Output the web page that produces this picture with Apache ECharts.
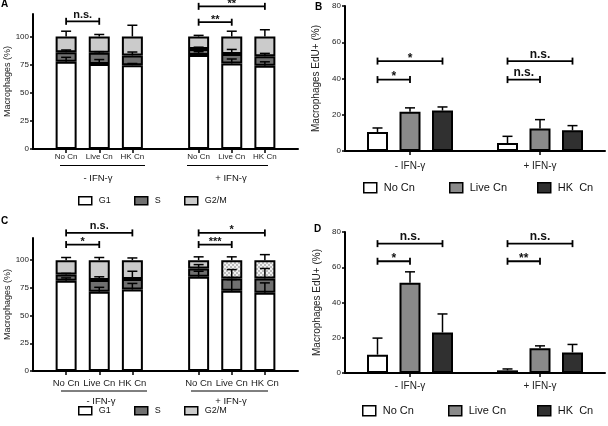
<!DOCTYPE html>
<html><head><meta charset="utf-8">
<script src="https://cdn.jsdelivr.net/npm/echarts@6/dist/echarts.min.js"></script>
<style>html,body{margin:0;padding:0;background:#fff}#c{width:608px;height:426px}</style>
</head><body><div id="c"></div>
<script>
// ---------- categories / ticks ----------
const slotLabels  = ['', 'No Cn', 'Live Cn', 'HK Cn', '', 'No Cn', 'Live Cn', 'HK Cn', ''];
const groupLabels = ['', '', '- IFN-γ', '', '', '', '+ IFN-γ', '', ''];
const barSlots = [1, 2, 3, 5, 6, 7];
const groupSlots = { 'No Cn': [1, 5], 'Live Cn': [2, 6], 'HK  Cn': [3, 7] };
const yTicksStack = [0, 25, 50, 75, 100];
const yTicksEdu = [0, 20, 40, 60, 80];
const phaseNames = ['G1', 'S', 'G2/M'];
const eduNames = ['No Cn', 'Live Cn', 'HK  Cn'];

// ---------- Panel A (stacked %) ----------
const A_G1 = [77.5, 75.5, 74.5, 83.5, 76, 74];
const A_S = [8.5, 10, 8.7, 5.5, 8.5, 8.5];
const A_G2M = [14, 14.5, 16.8, 11, 15.5, 17.5];
const A_G1_err = [4, 4, 1.5, 3, 4, 3.5];
const A_S_err = [2, 1, 3, 1.5, 4, 2.5];
const A_G2M_err = [4.7, 1.8, 10, 1, 4.7, 6];
const A_sigFrom = [1, 5, 5], A_sigTo = [2, 7, 6], A_sigY = [113.5, 126.8, 112.7], A_sigText = ['n.s.', '**', '**'];

// ---------- Panel B (EdU+) ----------
const B_NoCn = [10.5, 4.4], B_NoCn_err = [2.2, 3.7];
const B_Live = [21.6, 12.4], B_Live_err = [2.2, 4.9];
const B_HK = [22.3, 11.4], B_HK_err = [2.0, 2.6];
const B_sigFrom = [1, 1, 5, 5], B_sigTo = [3, 2, 7, 6], B_sigY = [49.6, 39.4, 49.6, 39.4], B_sigText = ['*', '*', 'n.s.', 'n.s.'];

// ---------- Panel C (stacked %) ----------
const C_G1 = [81.5, 71.5, 73.5, 85, 72.5, 70.5];
const C_S = [5.5, 10.5, 9.5, 7.5, 11, 13];
const C_G2M = [13, 18, 17, 7.5, 16.5, 16.5];
const C_G1_err = [2.5, 4, 5.5, 5, 10, 9];
const C_S_err = [1, 3, 7, 3.5, 8, 9];
const C_G2M_err = [2.4, 2.4, 2, 3, 3, 5];
const C_dotted = [false, false, false, false, true, true];
const C_sigFrom = [1, 1, 5, 5], C_sigTo = [3, 2, 7, 6], C_sigY = [124.6, 114.1, 124.6, 114.1], C_sigText = ['n.s.', '*', '*', '***'];

// ---------- Panel D (EdU+) ----------
const D_NoCn = [10.4, 1.5], D_NoCn_err = [9.4, 0.8];
const D_Live = [51.2, 14.1], D_Live_err = [6.2, 1.3];
const D_HK = [23.0, 11.7], D_HK_err = [10.5, 4.5];
const D_sigFrom = [1, 1, 5, 5], D_sigTo = [3, 2, 7, 6], D_sigY = [73.4, 63.4, 73.4, 63.4], D_sigText = ['n.s.', '*', 'n.s.', '**'];

// ---------- styling ----------
const FONT = 'Liberation Sans, Arial, Helvetica, sans-serif';
const COL_G1 = '#ffffff', COL_S = '#707070', COL_G2M = '#cbcbcb';
const COL_NO = '#ffffff', COL_LIVE = '#8a8a8a', COL_HK = '#303030';

const pc = document.createElement('canvas');
pc.width = 4; pc.height = 4;
(function () {
  const g = pc.getContext('2d');
  g.fillStyle = '#f2f2f2'; g.fillRect(0, 0, 4, 4);
  g.fillStyle = '#bdbdbd';
  g.fillRect(0, 0, 2, 2); g.fillRect(2, 2, 2, 2);
})();
const dotted = { image: pc, repeat: 'repeat' };

function slotArray(vals, slots) {
  const arr = slotLabels.map(() => '-');
  slots.forEach((s, i) => { arr[s] = vals[i]; });
  return arr;
}

function errRender(params, api) {
  const x = api.value(0), lo = api.value(1), hi = api.value(2);
  const p1 = api.coord([x, lo]), p2 = api.coord([x, hi]);
  const hw = 5;
  return { type: 'group', children: [
    { type: 'line', shape: { x1: p1[0], y1: p1[1], x2: p2[0], y2: p2[1] }, style: { stroke: '#000', lineWidth: 1.5 } },
    { type: 'line', shape: { x1: p2[0] - hw, y1: p2[1], x2: p2[0] + hw, y2: p2[1] }, style: { stroke: '#000', lineWidth: 1.5 } }
  ] };
}

function sigSeries(idx, from, to, ys, texts, fs) {
  return {
    type: 'custom', xAxisIndex: idx, yAxisIndex: idx, z: 10, silent: true, clip: false,
    data: from.map((f, i) => [f, to[i], ys[i]]),
    encode: { x: [0, 1], y: 2 },
    renderItem: function (params, api) {
      const yv = api.value(2);
      const a = api.coord([api.value(0), yv]), b = api.coord([api.value(1), yv]);
      const y = a[1], c = 3.5;
      const st = { stroke: '#000', lineWidth: 1.8 };
      const txt = texts[params.dataIndex];
      const isStar = txt.indexOf('*') >= 0;
      return { type: 'group', children: [
        { type: 'line', shape: { x1: a[0], y1: y, x2: b[0], y2: y }, style: st },
        { type: 'line', shape: { x1: a[0], y1: y - c, x2: a[0], y2: y + c }, style: st },
        { type: 'line', shape: { x1: b[0], y1: y - c, x2: b[0], y2: y + c }, style: st },
        { type: 'text', x: (a[0] + b[0]) / 2, y: y - (isStar ? 2.5 : 6.5), style: {
          text: txt, fill: '#111', fontSize: fs, fontWeight: 'bold', fontFamily: FONT,
          align: 'center', verticalAlign: 'middle' } }
      ] };
    }
  };
}

function stackPanel(idx, G1, S, G2M, e1, e2, e3, stackName, dottedFlags) {
  const out = [];
  const mk = (name, vals, color, flags) => ({
    name: name, type: 'bar', stack: stackName, xAxisIndex: idx, yAxisIndex: idx, barWidth: 21,
    itemStyle: { color: color, borderColor: '#000', borderWidth: 2 },
    data: slotArray(vals, barSlots).map((v, k) => {
      if (flags && v !== '-') {
        const bi = barSlots.indexOf(k);
        if (flags[bi]) return { value: v, itemStyle: { color: dotted } };
      }
      return v;
    })
  });
  out.push(mk('G1', G1, COL_G1));
  out.push(mk('S', S, COL_S));
  out.push(mk('G2/M', G2M, COL_G2M, dottedFlags));
  const ed = [];
  barSlots.forEach((s, i) => {
    const t1 = G1[i], t2 = G1[i] + S[i], t3 = G1[i] + S[i] + G2M[i];
    ed.push([s, t1, t1 + e1[i]]);
    ed.push([s, t2, t2 + e2[i]]);
    ed.push([s, t3, t3 + e3[i]]);
  });
  out.push({ type: 'custom', xAxisIndex: idx, yAxisIndex: idx, z: 5, silent: true, data: ed,
    encode: { x: 0, y: [1, 2] }, renderItem: errRender });
  return out;
}

function eduPanel(idx, no, live, hk, eNo, eLive, eHk) {
  const out = [];
  const sets = [[eduNames[0], no, eNo, COL_NO], [eduNames[1], live, eLive, COL_LIVE], [eduNames[2], hk, eHk, COL_HK]];
  const ed = [];
  sets.forEach(([name, vals, errs, col]) => {
    const slots = groupSlots[name];
    out.push({ name: name, type: 'bar', xAxisIndex: idx, yAxisIndex: idx, barWidth: 21, barGap: '-100%',
      itemStyle: { color: col, borderColor: '#000', borderWidth: 2 },
      data: slotArray(vals, slots) });
    slots.forEach((s, i) => ed.push([s, vals[i], vals[i] + errs[i]]));
  });
  out.push({ type: 'custom', xAxisIndex: idx, yAxisIndex: idx, z: 5, silent: true, data: ed,
    encode: { x: 0, y: [1, 2] }, renderItem: errRender });
  return out;
}

const axisLineStyle = { lineStyle: { color: '#000', width: 2 } };

function xStack(idx, margin, fs) {
  return { type: 'category', gridIndex: idx, data: slotLabels, boundaryGap: false,
    axisLine: axisLineStyle,
    axisTick: { length: 4, lineStyle: { color: '#000', width: 1.5 }, interval: (i, v) => v !== '' },
    axisLabel: { interval: 0, margin: margin, fontSize: fs, color: '#222', fontFamily: FONT },
    splitLine: { show: false } };
}
function xEdu(idx, margin) {
  return { type: 'category', gridIndex: idx, data: groupLabels, boundaryGap: false,
    axisLine: axisLineStyle,
    axisTick: { length: 4, lineStyle: { color: '#000', width: 1.5 }, interval: (i, v) => v !== '' },
    axisLabel: { interval: 0, margin: margin, fontSize: 10, color: '#222', fontFamily: FONT },
    splitLine: { show: false } };
}
function yAxis(idx, max, interval, ticks, name, gap, nfs) {
  return { type: 'value', gridIndex: idx, min: 0, max: max, interval: interval,
    name: name, nameLocation: 'middle', nameGap: gap, nameRotate: 90,
    nameTextStyle: { fontSize: nfs, color: '#222', fontFamily: FONT },
    axisLine: { show: true, lineStyle: { color: '#000', width: 2 } },
    axisTick: { show: true, length: 3, customValues: ticks, lineStyle: { color: '#000', width: 1.5 } },
    axisLabel: { customValues: ticks, margin: 4, fontSize: 8, color: '#222', fontFamily: FONT },
    splitLine: { show: false } };
}

function legendItem(name, left, top, w, h, fs) {
  return { data: [name], left: left, top: top, padding: 0, itemWidth: w, itemHeight: h, itemGap: 0,
    icon: 'rect', selectedMode: false,
    itemStyle: { borderColor: '#000', borderWidth: 1.5 },
    textStyle: { fontSize: fs, color: '#111', fontFamily: FONT, padding: [0, 0, 0, 2] } };
}

const chart = echarts.init(document.getElementById('c'), null, { renderer: 'canvas' });

const option = {
  animation: false,
  backgroundColor: '#fff',
  title: [
    { text: 'A', left: 1, top: -1, padding: 0, textStyle: { fontSize: 10, fontWeight: 'bold', color: '#000', fontFamily: FONT } },
    { text: 'B', left: 315, top: 2, padding: 0, textStyle: { fontSize: 10, fontWeight: 'bold', color: '#000', fontFamily: FONT } },
    { text: 'C', left: 1, top: 216, padding: 0, textStyle: { fontSize: 10, fontWeight: 'bold', color: '#000', fontFamily: FONT } },
    { text: 'D', left: 314, top: 224, padding: 0, textStyle: { fontSize: 10, fontWeight: 'bold', color: '#000', fontFamily: FONT } }
  ],
  grid: [
    { left: 33, top: 14, width: 265, height: 135 },
    { left: 345, top: 6, width: 263, height: 145 },
    { left: 33, top: 238, width: 265, height: 133 },
    { left: 345, top: 232, width: 263, height: 141 }
  ],
  xAxis: [xStack(0, 4, 8), xEdu(1, 10), xStack(2, 7, 9.5), xEdu(3, 8)],
  yAxis: [
    yAxis(0, 120, 25, yTicksStack, 'Macrophages (%)', 13, 9),
    yAxis(1, 80, 20, yTicksEdu, 'Macrophages EdU+ (%)', 24, 10),
    yAxis(2, 120, 25, yTicksStack, 'Macrophages (%)', 13, 9),
    yAxis(3, 80, 20, yTicksEdu, 'Macrophages EdU+ (%)', 23, 10)
  ],
  legend: [
    legendItem('G1', 78, 196, 13, 8, 9),
    legendItem('S', 134, 196, 13, 8, 9),
    legendItem('G2/M', 184, 196, 13, 8, 9),
    legendItem('No Cn', 363, 182, 13, 10, 11),
    legendItem('Live Cn', 449, 182, 13, 10, 11),
    legendItem('HK  Cn', 537, 182, 13, 10, 11),
    legendItem('G1', 78, 406, 13, 8, 9),
    legendItem('S', 134, 406, 13, 8, 9),
    legendItem('G2/M', 184, 406, 13, 8, 9),
    legendItem('No Cn', 362, 405, 13, 10, 11),
    legendItem('Live Cn', 448, 405, 13, 10, 11),
    legendItem('HK  Cn', 537, 405, 13, 10, 11)
  ],
  graphic: [
    { type: 'line', shape: { x1: 60, y1: 165.5, x2: 145, y2: 165.5 }, style: { stroke: '#000', lineWidth: 1 } },
    { type: 'line', shape: { x1: 187, y1: 165.5, x2: 268, y2: 165.5 }, style: { stroke: '#000', lineWidth: 1 } },
    { type: 'text', x: 98, y: 178, style: { text: '- IFN-γ', fontSize: 9.5, fill: '#111', fontFamily: FONT, align: 'center', verticalAlign: 'middle' } },
    { type: 'text', x: 231, y: 178, style: { text: '+ IFN-γ', fontSize: 9.5, fill: '#111', fontFamily: FONT, align: 'center', verticalAlign: 'middle' } },
    { type: 'line', shape: { x1: 61, y1: 391, x2: 147, y2: 391 }, style: { stroke: '#000', lineWidth: 1 } },
    { type: 'line', shape: { x1: 191, y1: 391, x2: 268, y2: 391 }, style: { stroke: '#000', lineWidth: 1 } },
    { type: 'text', x: 101, y: 401, style: { text: '- IFN-γ', fontSize: 9.5, fill: '#111', fontFamily: FONT, align: 'center', verticalAlign: 'middle' } },
    { type: 'text', x: 231, y: 401, style: { text: '+ IFN-γ', fontSize: 9.5, fill: '#111', fontFamily: FONT, align: 'center', verticalAlign: 'middle' } }
  ],
  series: [].concat(
    stackPanel(0, A_G1, A_S, A_G2M, A_G1_err, A_S_err, A_G2M_err, 'stA', null),
    sigSeries(0, A_sigFrom, A_sigTo, A_sigY, A_sigText, 11),
    eduPanel(1, B_NoCn, B_Live, B_HK, B_NoCn_err, B_Live_err, B_HK_err),
    sigSeries(1, B_sigFrom, B_sigTo, B_sigY, B_sigText, 12),
    stackPanel(2, C_G1, C_S, C_G2M, C_G1_err, C_S_err, C_G2M_err, 'stC', C_dotted),
    sigSeries(2, C_sigFrom, C_sigTo, C_sigY, C_sigText, 11),
    eduPanel(3, D_NoCn, D_Live, D_HK, D_NoCn_err, D_Live_err, D_HK_err),
    sigSeries(3, D_sigFrom, D_sigTo, D_sigY, D_sigText, 12)
  )
};
chart.setOption(option);
</script>
</body></html>
